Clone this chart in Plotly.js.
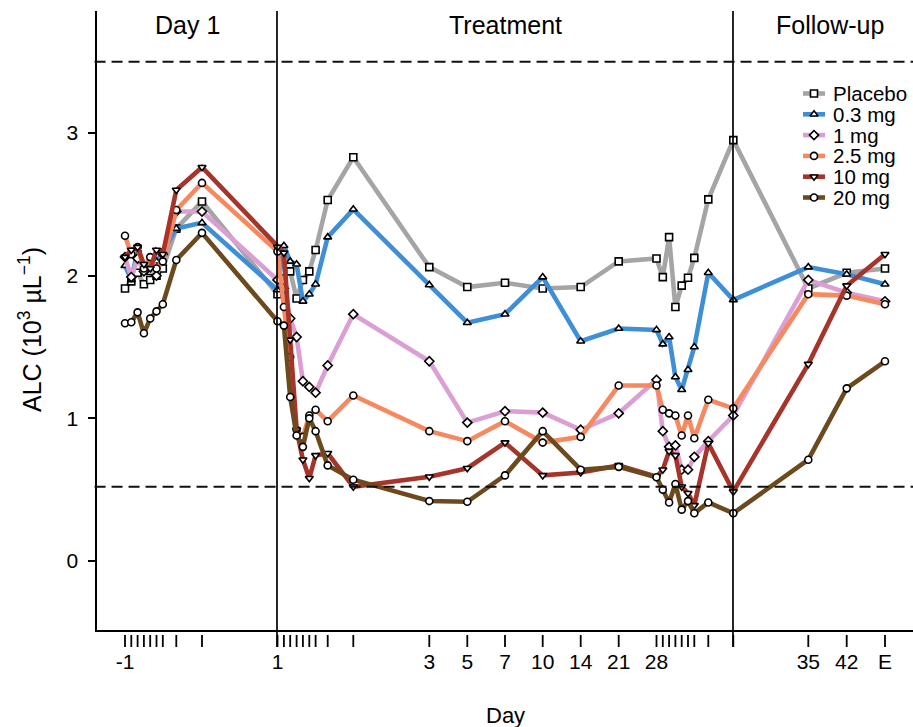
<!DOCTYPE html>
<html>
<head>
<meta charset="utf-8">
<script src="https://cdn.plot.ly/plotly-3.0.1.min.js"></script>
<style>html,body{margin:0;padding:0;background:#fff}#chart{width:913px;height:727px}</style>
</head>
<body>
<div id="chart"></div>
<script>
// Timepoint positions on the compressed study-day axis (Day -1 block, Day 1 block, days 3-21, Day 28 block, end of treatment, follow-up)
const timeX = [125,131.3,137.6,143.9,150.2,156.5,162.8,176.3,202,
               277.5,283.9,290.2,296.6,302.9,309.3,315.6,327.7,353.3,
               429.3,467.3,505,542.7,580.7,618.7,
               656.5,662.8,669.1,675.4,681.7,688,694.3,708.3,
               733.3,
               808.3,846.7,885];
const tickLabelX = [125,277.5,429.3,467.3,505,542.7,580.7,618.7,656.5,808.3,846.7,885];
const tickLabels = ['-1','1','3','5','7','10','14','21','28','35','42','E'];
const sectionBounds = [97,277,733,913];
const sectionNames = ['Day 1','Treatment','Follow-up'];
const refLines = [3.5,0.52];

const seriesNames = ['Placebo','0.3 mg','1 mg','2.5 mg','10 mg','20 mg'];
const placebo = [1.91,1.96,2.02,1.94,1.97,2.00,2.05,2.33,2.52, 1.87,2.03,2.03,1.84,1.97,2.03,2.18,2.53,2.83, 2.06,1.92,1.95,1.91,1.92,2.10, 2.12,1.99,2.27,1.78,1.93,1.985,2.125,2.535, 2.95, 1.91,2.02,2.05];
const dose03  = [2.07,1.97,2.18,2.05,2.02,2.10,2.17,2.33,2.37, 1.90,2.21,2.10,2.08,1.82,1.87,1.94,2.27,2.465, 1.935,1.67,1.73,1.99,1.54,1.63, 1.62,1.52,1.57,1.29,1.20,1.34,1.50,2.02, 1.83, 2.06,2.01,1.94];
const dose1   = [2.13,1.99,2.12,2.03,2.07,2.00,2.15,2.45,2.45, 1.97,1.91,1.70,1.57,1.26,1.22,1.18,1.37,1.73, 1.40,0.97,1.05,1.04,0.92,1.035, 1.27,0.91,0.80,0.81,0.64,0.64,0.73,0.84, 1.02, 1.97,1.88,1.82];
const dose25  = [2.28,2.15,2.20,2.05,2.13,2.05,2.10,2.46,2.65, 2.17,1.78,1.43,0.92,0.87,1.02,1.06,0.98,1.16, 0.91,0.84,0.98,0.83,0.87,1.23, 1.23,1.06,1.035,1.02,0.88,1.02,0.86,1.13, 1.07, 1.87,1.86,1.80];
const dose10  = [2.13,2.18,2.20,2.08,2.05,2.18,2.15,2.60,2.76, 2.20,2.16,1.55,0.92,0.71,0.58,0.74,0.755,0.52, 0.59,0.65,0.83,0.60,0.62,0.67, 0.59,0.64,0.77,0.74,0.52,0.475,0.39,0.825, 0.486, 1.38,1.93,2.15];
const dose20  = [1.666,1.673,1.743,1.596,1.70,1.75,1.80,2.11,2.30, 1.68,1.65,1.15,0.88,0.80,1.00,0.91,0.67,0.57, 0.42,0.415,0.60,0.91,0.64,0.66, 0.587,0.50,0.41,0.54,0.36,0.42,0.335,0.41, 0.335, 0.71,1.21,1.40];
const seriesValues = [placebo,dose03,dose1,dose25,dose10,dose20];

const colors = ['#a5a5a5','#3f8fd8','#dc9fd3','#f6895f','#a7342a','#6c4a1d'];
const symbols = ['square','triangle-up','diamond','circle','triangle-down','circle'];

const FONT = 'Liberation Sans, Arial, sans-serif';
const TOP = 11, BOTTOM = 630, PLOT_H = BOTTOM - TOP;

const traces = seriesValues.map((vals,i)=>({
  type:'scatter', mode:'lines+markers', name:seriesNames[i],
  x: timeX, y: vals, xaxis:'x', yaxis:'y',
  line:{color:colors[i], width:4.6},
  marker:{symbol:symbols[i], size:7, color:'#ffffff', line:{color:'#000', width:1.6}},
  showlegend:false, hoverinfo:'skip'
}));

// custom legend (pixel-positioned overlay axis)
const legX0 = 803, legX1 = 825, legTextX = 831, legY0 = 93.5, legDy = 20.8;
traces.push({
  type:'scatter', mode:'markers', xaxis:'x', yaxis:'y2', showlegend:false, hoverinfo:'skip',
  x: seriesNames.map(()=> (legX0+legX1)/2),
  y: seriesNames.map((_,i)=> legY0 + i*legDy),
  marker:{symbol:symbols, size:7, color:'#fff', line:{color:'#000', width:1.6}}
});

const shapes = [];
[sectionBounds[1], sectionBounds[2]].forEach(xv=>{
  shapes.push({type:'line', xref:'x', yref:'paper', x0:xv, x1:xv, y0:-17/PLOT_H, y1:1, line:{color:'#000', width:1.7}});
});
refLines.forEach(v=>{
  shapes.push({type:'line', xref:'paper', yref:'y', x0:-0.003, x1:1, y0:v, y1:v, line:{color:'#111', width:2, dash:'11px,6px'}});
});
timeX.forEach(xv=>{
  shapes.push({type:'line', xref:'x', yref:'paper', x0:xv, x1:xv, y0:-5/PLOT_H, y1:-17/PLOT_H, line:{color:'#000', width:1.8}});
});
seriesNames.forEach((n,i)=>{
  shapes.push({type:'line', xref:'x', yref:'y2', x0:legX0, x1:legX1, y0:legY0+i*legDy, y1:legY0+i*legDy, line:{color:colors[i], width:4.6}, layer:'below'});
});

const annotations = [];
sectionNames.forEach((s,i)=>{
  const mid = (sectionBounds[i]+sectionBounds[i+1])/2 + (i===2?7:0);
  annotations.push({text:s, xref:'x', yref:'y2', x:mid, y:25, showarrow:false, xanchor:'center', yanchor:'middle', font:{family:FONT, size:25, color:'#000'}});
});
seriesNames.forEach((n,i)=>{
  annotations.push({text:n, xref:'x', yref:'y2', x:legTextX, y:legY0+i*legDy, showarrow:false, xanchor:'left', yanchor:'middle', font:{family:FONT, size:20.5, color:'#000'}});
});
annotations.push({text:'ALC (10<sup>3</sup> µL<sup>−1</sup>)', xref:'paper', yref:'paper', x:(30-97)/816, y:1-(330-TOP)/PLOT_H, textangle:-90, showarrow:false, xanchor:'center', yanchor:'middle', font:{family:FONT, size:25, color:'#000'}});
annotations.push({text:'Day', xref:'x', yref:'paper', x:505, y:-(715-BOTTOM)/PLOT_H, showarrow:false, xanchor:'center', yanchor:'middle', font:{family:FONT, size:22, color:'#000'}});

const layout = {
  width:913, height:727,
  margin:{l:97, r:0, t:TOP, b:727-BOTTOM, pad:0},
  paper_bgcolor:'#fff', plot_bgcolor:'#fff',
  showlegend:false,
  xaxis:{range:[97,913], showgrid:false, zeroline:false, showline:true, linecolor:'#000', linewidth:1.7,
         tickmode:'array', tickvals:tickLabelX, ticktext:tickLabels, ticks:'', ticklabelstandoff:12,
         tickfont:{family:FONT, size:21, color:'#000'}, fixedrange:true},
  yaxis:{range:[(561-BOTTOM)/142.67, (561-TOP)/142.67], showgrid:false, zeroline:false, showline:true, linecolor:'#000', linewidth:1.7,
         tickmode:'array', tickvals:[0,1,2,3], ticks:'outside', ticklen:7, tickwidth:1.7, tickcolor:'#000',
         tickfont:{family:FONT, size:21, color:'#000'}, ticklabelstandoff:6, fixedrange:true},
  yaxis2:{overlaying:'y', range:[BOTTOM, TOP], visible:false, fixedrange:true},
  shapes:shapes, annotations:annotations
};

Plotly.newPlot('chart', traces, layout, {staticPlot:true, displayModeBar:false});
</script>
</body>
</html>
